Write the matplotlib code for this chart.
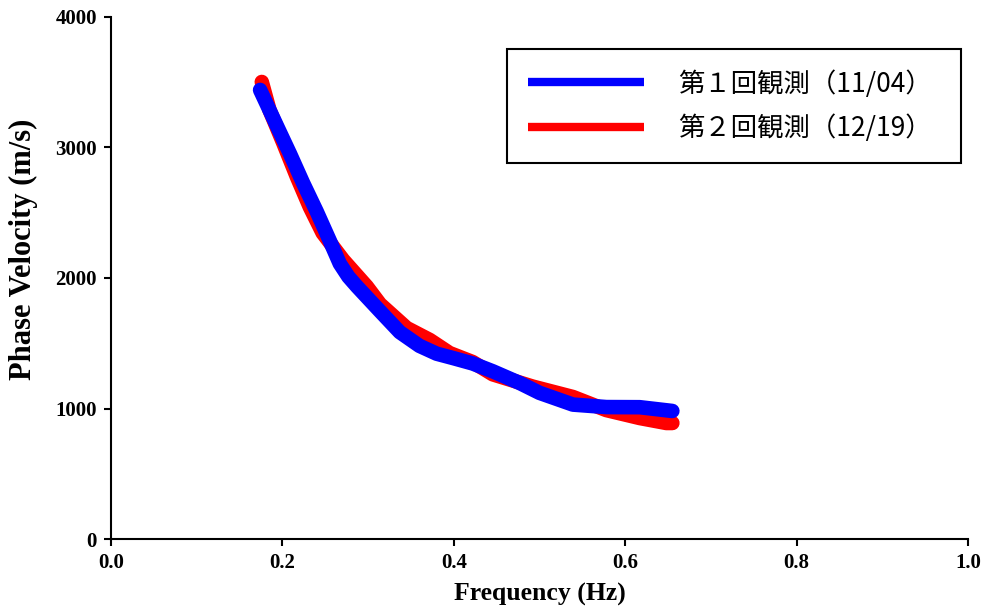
import matplotlib
matplotlib.use("Agg")
import matplotlib.pyplot as plt

# 第１回観測 (11/04)
freq1 = [0.174, 0.194, 0.209, 0.224, 0.240, 0.255, 0.267, 0.277, 0.287, 0.314,
         0.337, 0.360, 0.380, 0.400, 0.422, 0.4455, 0.477, 0.500, 0.539, 0.578,
         0.617, 0.655]
vel1 = [3441, 3160, 2950, 2730, 2510, 2290, 2110, 2010, 1935, 1745,
        1585, 1480, 1420, 1385, 1345, 1285, 1195, 1120, 1030, 1011,
        1010, 981]

# 第２回観測 (12/19)
freq2 = [0.176, 0.185, 0.201, 0.217, 0.232, 0.247, 0.271, 0.2985, 0.314, 0.345,
         0.372, 0.395, 0.422, 0.4455, 0.492, 0.539, 0.578, 0.617, 0.648, 0.655]
vel2 = [3502, 3287, 3035, 2774, 2544, 2345, 2138, 1935, 1800, 1617,
        1525, 1425, 1356, 1262, 1168, 1088, 988, 927, 889, 889]

labels = ["第１回観測（11/04）", "第２回観測（12/19）"]

plt.rcParams['font.family'] = ["Liberation Serif", "DejaVu Serif"]
plt.rcParams['font.weight'] = "bold"
jp = ["Noto Sans CJK JP", "DejaVu Sans"]

fig = plt.figure(figsize=(9.88, 6.13), dpi=100)
ax = fig.add_axes([0.1123, 0.1207, 0.8675, 0.8516])

ax.plot(freq2, vel2, color="#ff0000", lw=10.5, solid_capstyle="round",
        solid_joinstyle="round", label=labels[1], zorder=2)
ax.plot(freq1, vel1, color="#0000ff", lw=10.5, solid_capstyle="round",
        solid_joinstyle="round", label=labels[0], zorder=3)

ax.set_xlim(0, 1.0)
ax.set_ylim(0, 4000)
ax.set_xticks([0.0, 0.2, 0.4, 0.6, 0.8, 1.0])
ax.set_yticks([0, 1000, 2000, 3000, 4000])
ax.set_xticklabels(["0.0", "0.2", "0.4", "0.6", "0.8", "1.0"])

for s in ["top", "right"]:
    ax.spines[s].set_visible(False)
for s in ["left", "bottom"]:
    ax.spines[s].set_linewidth(1.5)
ax.tick_params(direction="out", length=5, width=1.5, pad=5, labelsize=15)

ax.set_xlabel("Frequency (Hz)", fontsize=18.5, fontweight="bold", labelpad=7)
ax.set_ylabel("Phase Velocity (m/s)", fontsize=22, fontweight="bold")
ax.yaxis.set_label_coords(-0.085, 0.554)

h, l = ax.get_legend_handles_labels()
leg = ax.legend(h[::-1], l[::-1], loc="upper left", bbox_to_anchor=(0.462, 0.939, 0.530, 0.0),
                mode="expand", prop={"family": jp, "size": 19, "weight": "normal"},
                frameon=True, fancybox=False, edgecolor="black", framealpha=1,
                handlelength=4.4, handletextpad=1.3, borderpad=0.8, labelspacing=0.65,
                borderaxespad=0)
leg.get_frame().set_linewidth(1.5)
for ln in leg.get_lines():
    ln.set_linewidth(6)
    ln.set_solid_capstyle("butt")

fig.savefig("out.png", dpi=100)
